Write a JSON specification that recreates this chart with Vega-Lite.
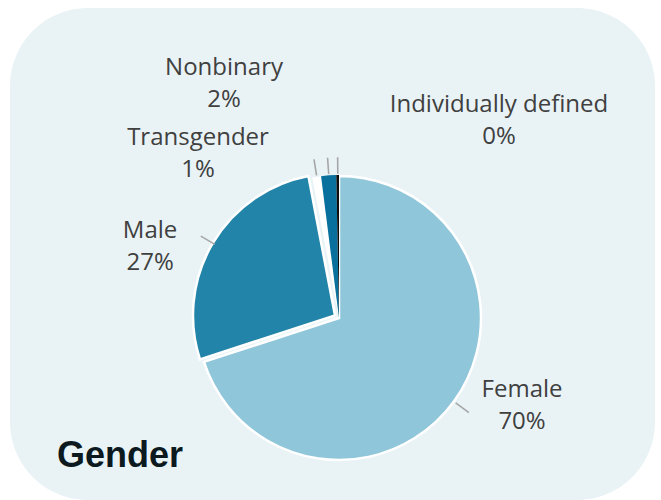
{
  "$schema": "https://vega.github.io/schema/vega-lite/v6.json",
  "width": 645,
  "height": 492,
  "autosize": {"type": "none"},
  "padding": {"left": 10, "top": 8, "right": 6, "bottom": 0},
  "background": "#ffffff",
  "view": {"fill": "#e9f3f6", "stroke": "#e9f3f6", "strokeWidth": 0, "cornerRadius": 78},
  "config": {
    "text": {"font": "Open Sans", "fontSize": 24, "lineHeight": 32, "lineBreak": "\n", "color": "#404040", "align": "center", "baseline": "alphabetic"}
  },
  "title": {
    "text": "Gender",
    "orient": "bottom",
    "anchor": "start",
    "frame": "group",
    "font": "Liberation Sans",
    "fontSize": 36,
    "fontWeight": "bold",
    "color": "#0c1a1f",
    "baseline": "alphabetic",
    "offset": 0,
    "dx": 47,
    "dy": -33
  },
  "data": {
    "values": [
      {"gender": "Female", "share": 70, "order": 1},
      {"gender": "Male", "share": 27, "order": 2},
      {"gender": "Transgender", "share": 1, "order": 3},
      {"gender": "Nonbinary", "share": 1.7, "order": 4},
      {"gender": "Individually defined", "share": 0.3, "order": 5}
    ]
  },
  "transform": [
    {"stack": "share", "groupby": [], "sort": [{"field": "order", "order": "ascending"}], "as": ["s0", "s1"]},
    {"calculate": "(datum.s0 + datum.s1) / 2", "as": "mid"},
    {"calculate": "(datum.s0 + datum.s1) / 2 + 0.03", "as": "mid2"},
    {"calculate": "datum.gender + '\\n' + format(datum.share, '.0f') + '%'", "as": "label"}
  ],
  "layer": [
    {
      "transform": [{"filter": "datum.gender === 'Female'"}],
      "mark": {"type": "arc", "x": 329, "y": 310, "outerRadius": 142, "stroke": "#ffffff", "strokeWidth": 2.5},
      "encoding": {
        "theta": {"field": "s0", "type": "quantitative", "scale": {"domain": [0, 100]}},
        "theta2": {"field": "s1"},
        "color": {"field": "gender", "type": "nominal", "legend": null,
          "scale": {"domain": ["Female", "Male", "Transgender", "Nonbinary", "Individually defined"],
                    "range": ["#8fc6d9", "#2184a8", "#ffffff", "#096f9c", "#0d0d0d"]}}
      }
    },
    {
      "transform": [{"filter": "datum.gender === 'Male'"}],
      "mark": {"type": "arc", "x": 325, "y": 307.5, "outerRadius": 142, "stroke": "#ffffff", "strokeWidth": 2.5},
      "encoding": {
        "theta": {"field": "s0", "type": "quantitative", "scale": {"domain": [0, 100]}},
        "theta2": {"field": "s1"},
        "color": {"field": "gender", "type": "nominal", "legend": null}
      }
    },
    {
      "transform": [{"filter": "datum.gender !== 'Female' && datum.gender !== 'Male'"}],
      "mark": {"type": "arc", "x": 329, "y": 310, "outerRadius": 143},
      "encoding": {
        "theta": {"field": "s0", "type": "quantitative", "scale": {"domain": [0, 100]}},
        "theta2": {"field": "s1"},
        "color": {"field": "gender", "type": "nominal", "legend": null}
      }
    },
    {
      "mark": {"type": "arc", "x": 329, "y": 310, "filled": false, "stroke": "#a6a6a6", "strokeWidth": 1.3, "outerRadius": 160, "innerRadius": 145},
      "encoding": {
        "theta": {"field": "mid", "type": "quantitative", "scale": {"domain": [0, 100]}},
        "theta2": {"field": "mid2"}
      }
    },
    {
      "transform": [{"filter": "datum.gender === 'Female'"}],
      "mark": {"type": "text", "x": 329, "y": 310, "radius": 170, "dx": 45.5, "dy": -21},
      "encoding": {"theta": {"field": "mid", "type": "quantitative", "scale": {"domain": [0, 100]}}, "text": {"field": "label"}}
    },
    {
      "transform": [{"filter": "datum.gender === 'Male'"}],
      "mark": {"type": "text", "x": 329, "y": 310, "radius": 170, "dx": -42.6, "dy": 6.5},
      "encoding": {"theta": {"field": "mid", "type": "quantitative", "scale": {"domain": [0, 100]}}, "text": {"field": "label"}}
    },
    {
      "transform": [{"filter": "datum.gender === 'Transgender'"}],
      "mark": {"type": "text", "x": 329, "y": 310, "radius": 170, "dx": -114.4, "dy": -5},
      "encoding": {"theta": {"field": "mid", "type": "quantitative", "scale": {"domain": [0, 100]}}, "text": {"field": "label"}}
    },
    {
      "transform": [{"filter": "datum.gender === 'Nonbinary'"}],
      "mark": {"type": "text", "x": 329, "y": 310, "radius": 170, "dx": -102.7, "dy": -73.4},
      "encoding": {"theta": {"field": "mid", "type": "quantitative", "scale": {"domain": [0, 100]}}, "text": {"field": "label"}}
    },
    {
      "transform": [{"filter": "datum.gender === 'Individually defined'"}],
      "mark": {"type": "text", "x": 329, "y": 310, "radius": 170, "dx": 161.6, "dy": -36},
      "encoding": {"theta": {"field": "mid", "type": "quantitative", "scale": {"domain": [0, 100]}}, "text": {"field": "label"}}
    }
  ]
}
